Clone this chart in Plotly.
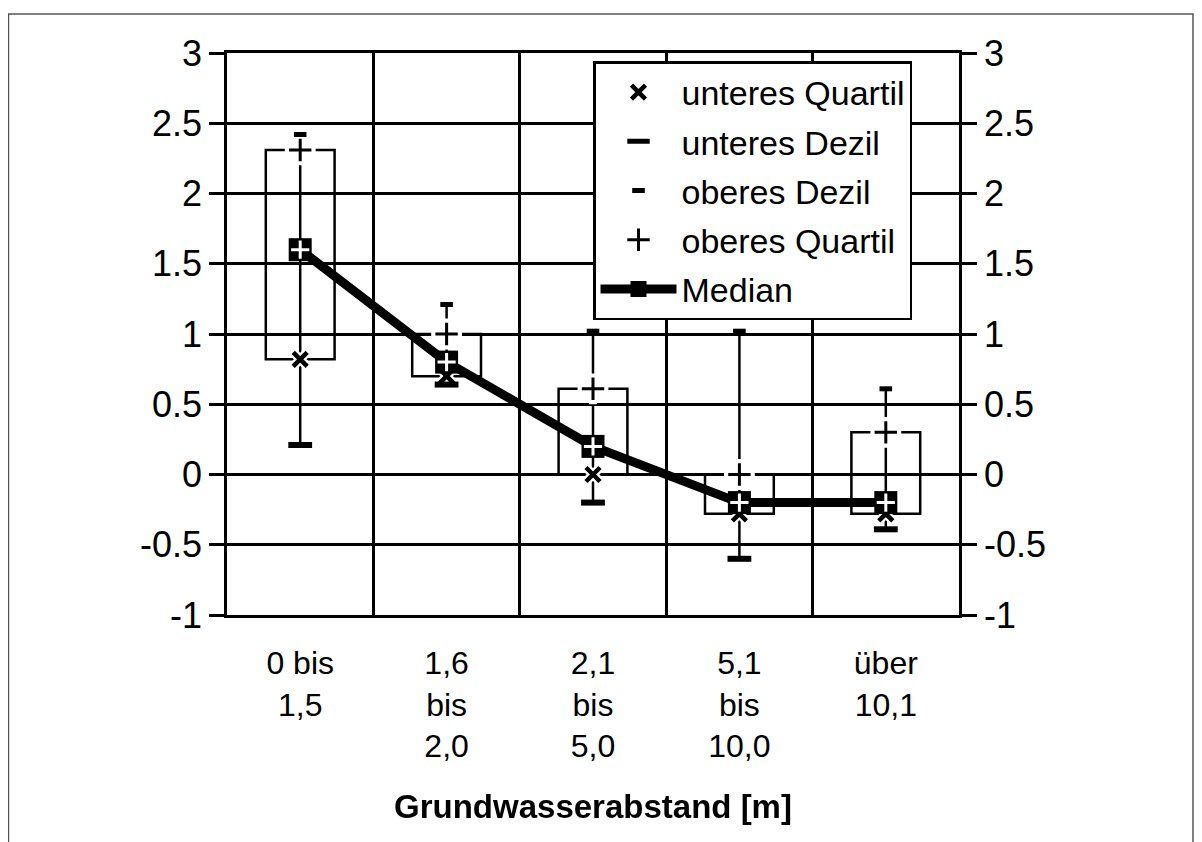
import plotly.graph_objects as go

categories = ["0 bis<br>1,5", "1,6<br>bis<br>2,0", "2,1<br>bis<br>5,0", "5,1<br>bis<br>10,0", "über<br>10,1"]
unteres_quartil = [0.82, 0.70, 0.00, -0.28, -0.28]
unteres_dezil = [0.21, 0.64, -0.20, -0.60, -0.39]
oberes_dezil = [2.42, 1.21, 1.02, 1.02, 0.61]
oberes_quartil = [2.31, 1.00, 0.61, 0.00, 0.30]
median = [1.60, 0.80, 0.20, -0.20, -0.20]
y_ticks = [-1, -0.5, 0, 0.5, 1, 1.5, 2, 2.5, 3]
y_ticktext = ["-1", "-0.5", "0", "0.5", "1", "1.5", "2", "2.5", "3"]

FONT = "Arial, Liberation Sans, sans-serif"
OFF = 8  # page body margin
L, T = 227 - OFF, 53 - OFF
W, H = 1202, 842
R = W - (959 - OFF)
B = H - (615 - OFF)
PW, PH = W - L - R, H - T - B


def px_x(x):
    return (x - OFF - L) / PW


def px_y(y):
    return (H - B - (y - OFF)) / PH


fig = go.Figure()

# quartile boxes (up/down bars)
fig.add_trace(go.Bar(
    x=categories, y=[u - l for u, l in zip(oberes_quartil, unteres_quartil)], base=unteres_quartil,
    width=0.47, marker=dict(color="rgba(0,0,0,0)", line=dict(color="black", width=2.5)),
    showlegend=False, hoverinfo="skip"))

# high-low lines (decile to decile)
hx, hy = [], []
for c, lo, hi in zip(categories, unteres_dezil, oberes_dezil):
    hx += [c, c, None]
    hy += [lo, hi, None]
fig.add_trace(go.Scatter(x=hx, y=hy, mode="lines", line=dict(color="black", width=2.5),
                         showlegend=False, hoverinfo="skip"))

# white halos
fig.add_trace(go.Scatter(x=categories, y=unteres_quartil, mode="markers", showlegend=False, hoverinfo="skip",
                         marker=dict(symbol="x-thin", size=20, line=dict(color="white", width=9))))
fig.add_trace(go.Scatter(x=categories, y=oberes_quartil, mode="markers", showlegend=False, hoverinfo="skip",
                         marker=dict(symbol="cross-thin", size=22, line=dict(color="white", width=8))))

fig.add_trace(go.Scatter(x=categories, y=unteres_quartil, mode="markers", name="unteres Quartil",
                         legendgroup="a",
                         marker=dict(symbol="x-thin", size=14, color="black", line=dict(color="black", width=4.5))))
fig.add_trace(go.Scatter(x=categories, y=unteres_dezil, mode="markers", name="unteres Dezil",
                         legendgroup="b",
                         marker=dict(symbol="line-ew", size=17, color="black", line=dict(color="black", width=6))))
fig.add_trace(go.Scatter(x=categories, y=oberes_dezil, mode="markers", name="oberes Dezil",
                         legendgroup="c",
                         marker=dict(symbol="line-ew", size=9, color="black", line=dict(color="black", width=5))))
fig.add_trace(go.Scatter(x=categories, y=oberes_quartil, mode="markers", name="oberes Quartil",
                         legendgroup="d",
                         marker=dict(symbol="cross-thin", size=16, color="black", line=dict(color="black", width=3))))
fig.add_trace(go.Scatter(x=categories, y=median, mode="lines+markers", name="Median",
                         legendgroup="e",
                         line=dict(color="black", width=9),
                         marker=dict(symbol="square", size=23, color="black")))
fig.add_trace(go.Scatter(x=categories, y=median, mode="markers", showlegend=False, hoverinfo="skip",
                         marker=dict(symbol="cross-thin", size=13, line=dict(color="white", width=3))))
# right axis carrier
fig.add_trace(go.Scatter(x=categories, y=median, yaxis="y2", mode="markers", opacity=0,
                         showlegend=False, hoverinfo="skip"))

axis_y = dict(range=[-1, 3], tickvals=y_ticks, ticktext=y_ticktext, showline=True, linecolor="black",
              linewidth=2.5, ticks="outside", ticklen=15, tickwidth=2.5, tickcolor="black",
              tickfont=dict(family=FONT, size=36, color="black"), zeroline=False)

fig.update_layout(
    width=W, height=H, margin=dict(l=L, r=R, t=T, b=B, autoexpand=False),
    paper_bgcolor="white", plot_bgcolor="white", barmode="overlay",
    font=dict(family=FONT, color="black"),
    xaxis=dict(type="category", tickson="boundaries", showgrid=True, gridcolor="black", gridwidth=2.5,
               showline=True, mirror=True, linecolor="black", linewidth=2.5, ticks="",
               ticklabelstandoff=18,
               tickfont=dict(family=FONT, size=32, color="black"),
               title=dict(text="<b>Grundwasserabstand [m]</b>", font=dict(family=FONT, size=33, color="black"),
                          standoff=32)),
    yaxis=dict(**axis_y, showgrid=True, gridcolor="black", gridwidth=2.5),
    yaxis2=dict(**axis_y, overlaying="y", side="right", showgrid=False),
    legend=dict(x=px_x(593), y=px_y(61), xanchor="left", yanchor="top",
                bgcolor="white", bordercolor="black", borderwidth=2.5,
                font=dict(family=FONT, size=34, color="black"), tracegroupgap=2,
                itemwidth=76, traceorder="grouped"),
    shapes=[dict(type="rect", xref="paper", yref="paper",
                 x0=px_x(8.5), x1=px_x(1193), y0=px_y(870), y1=px_y(14),
                 line=dict(color="#555", width=1.5), fillcolor="rgba(0,0,0,0)", layer="below")],
)

fig.write_html("out.html")
